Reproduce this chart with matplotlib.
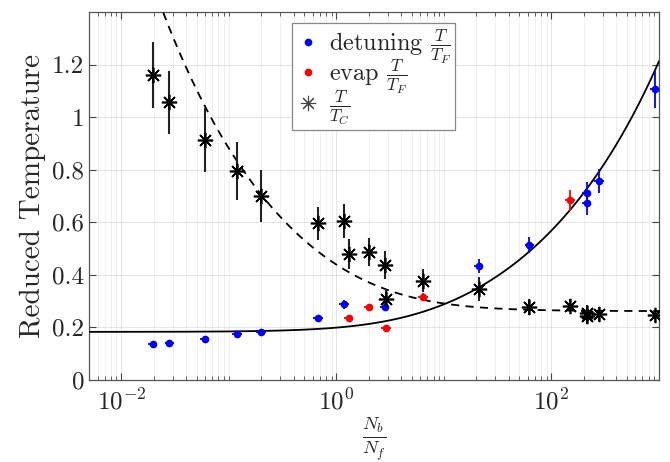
import numpy as np
import matplotlib
matplotlib.use("Agg")
import matplotlib.pyplot as plt
from matplotlib.lines import Line2D
from matplotlib.ticker import FixedLocator, LogLocator, NullFormatter

plt.rcParams["font.family"] = ["cmr10", "DejaVu Serif"]
plt.rcParams["mathtext.fontset"] = "cm"
plt.rcParams["axes.formatter.use_mathtext"] = True
plt.rcParams["axes.unicode_minus"] = False

# Detuning measurements: boson/fermion number ratio and T/T_F
ratio_det = [0.0197, 0.028, 0.06, 0.12, 0.2, 0.679, 1.18, 2.83, 21.0, 62.4, 213, 213, 279, 920]
temp_det = [0.137, 0.141, 0.157, 0.175, 0.184, 0.235, 0.288, 0.279, 0.434, 0.513, 0.712, 0.672, 0.756, 1.106]
err_det = [0.005, 0.005, 0.006, 0.006, 0.007, 0.01, 0.018, 0.015, 0.027, 0.03, 0.04, 0.045, 0.045, 0.07]

# Evaporation measurements: T/T_F
ratio_evap = [1.30, 2.01, 2.9, 6.44, 149]
temp_evap = [0.237, 0.276, 0.198, 0.317, 0.683]
err_evap = [0.01, 0.012, 0.01, 0.015, 0.04]

# Same shots expressed as T/T_C
ratio_tc = [0.0197, 0.028, 0.06, 0.12, 0.2, 0.679, 1.18, 1.30, 2.01, 2.83, 2.9, 6.44,
            21.0, 62.4, 149, 213, 213, 279, 920]
temp_tc = [1.16, 1.057, 0.913, 0.795, 0.70, 0.596, 0.606, 0.479, 0.486, 0.437, 0.308, 0.378,
           0.345, 0.279, 0.283, 0.256, 0.243, 0.251, 0.246]
err_tc = [0.125, 0.12, 0.12, 0.11, 0.1, 0.062, 0.065, 0.058, 0.054, 0.053, 0.038, 0.045,
          0.045, 0.03, 0.025, 0.03, 0.03, 0.025, 0.02]

# Relative uncertainty of the number ratio
ratio_rel_err = 0.1

# Model curves: T/T_F = a (1 + b x)^(1/3),  T/T_C = c (1 + d / x)^(1/3)
tf_a, tf_b = 0.183, 0.29
tc_c, tc_d = 0.262, 3.7

x_model = np.logspace(np.log10(0.005), 3, 500)
tf_model = tf_a * (1 + tf_b * x_model) ** (1 / 3)
tc_model = tc_c * (1 + tc_d / x_model) ** (1 / 3)

fig = plt.figure(figsize=(6.7, 4.62), dpi=100)
ax = fig.add_axes([89 / 670, (462 - 380) / 462, 570 / 670, 368 / 462])
ax.set_xscale("log")

ax.plot(x_model, tf_model, color="black", lw=1.3, zorder=3)
ax.plot(x_model, tc_model, color="black", lw=1.3, ls=(0, (4.5, 3.5)), zorder=3)


def xerr_of(xs):
    xs = np.asarray(xs, float)
    return ratio_rel_err * xs


ax.errorbar(ratio_det, temp_det, yerr=err_det, xerr=xerr_of(ratio_det), fmt="o",
            color="blue", ms=4.5, elinewidth=1.3, capsize=0, zorder=4)
ax.errorbar(ratio_evap, temp_evap, yerr=err_evap, xerr=xerr_of(ratio_evap), fmt="o",
            color="red", ms=4.5, elinewidth=1.3, capsize=0, zorder=4)
star = (8, 2, 0)
ax.errorbar(ratio_tc, temp_tc, yerr=err_tc, fmt="none", ecolor="#222222",
            elinewidth=1.5, capsize=0, zorder=4)
ax.plot(ratio_tc, temp_tc, ls="none", marker=star, ms=11, mec="black", mew=1.2, zorder=5)

ax.set_xlim(0.005, 1000)
ax.set_ylim(0, 1.4)

ax.xaxis.set_major_locator(FixedLocator([1e-2, 1e0, 1e2]))
ax.xaxis.set_minor_locator(LogLocator(base=10, subs=np.arange(1, 10), numticks=100))
ax.xaxis.set_minor_formatter(NullFormatter())
ax.set_xticklabels([r"$10^{-2}$", r"$10^{0}$", r"$10^{2}$"])
yticks = [0, 0.2, 0.4, 0.6, 0.8, 1.0, 1.2]
ytick_labels = ["0", "0.2", "0.4", "0.6", "0.8", "1", "1.2"]
ax.set_yticks(yticks)
ax.set_yticklabels(ytick_labels)

ax.tick_params(which="both", direction="in", top=True, right=True, colors="#444444",
               labelcolor="#262626", labelsize=18)
ax.tick_params(which="major", length=5, width=0.8)
ax.tick_params(which="minor", length=3, width=0.6)
ax.tick_params(axis="x", pad=6)

ax.grid(True, which="major", color="#262626", alpha=0.12, lw=0.7)
ax.grid(True, which="minor", axis="x", color="#262626", alpha=0.08, lw=0.6)
ax.set_axisbelow(True)
for sp in ax.spines.values():
    sp.set_color("#555555")
    sp.set_linewidth(0.9)

ax.set_ylabel("Reduced Temperature", fontsize=21, color="#262626", labelpad=4)
ax.set_xlabel(r"$\frac{N_b}{N_f}$", fontsize=19, color="#262626", labelpad=0)

handles = [
    Line2D([], [], ls="none", marker="o", color="blue", ms=4.5),
    Line2D([], [], ls="none", marker="o", color="red", ms=4.5),
    Line2D([], [], ls="none", marker=star, ms=11, mec="#444444", mew=0.8),
]
labels = [r"detuning $\frac{T}{T_F}$", r"evap $\frac{T}{T_F}$", r"$\frac{T}{T_C}$"]
leg = ax.legend(handles, labels, loc="upper left", bbox_to_anchor=(0.357, 0.969),
                fontsize=17.5, frameon=True, fancybox=False, framealpha=1,
                edgecolor="#888888", handlelength=1.0, handletextpad=0.35,
                borderpad=0.15, labelspacing=-0.32, borderaxespad=0)
leg.get_frame().set_linewidth(0.9)
for t in leg.get_texts():
    t.set_color("#262626")

fig.savefig("out.png", dpi=100)
